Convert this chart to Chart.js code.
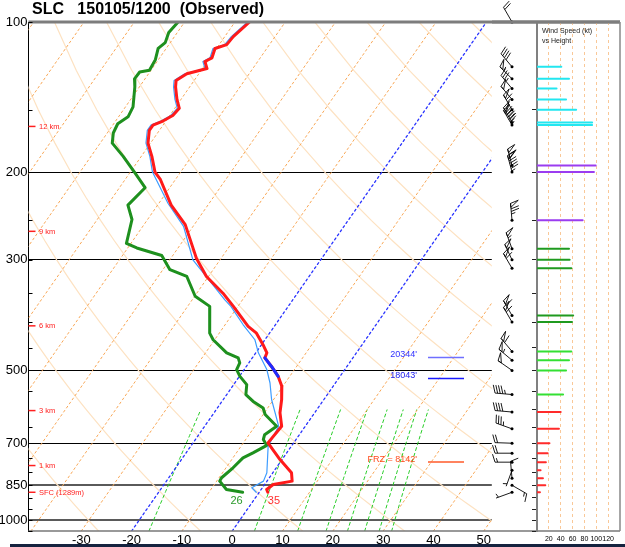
<!DOCTYPE html>
<html>
<head>
<meta charset="utf-8">
<script src="https://cdn.jsdelivr.net/npm/chart.js@4.4.1/dist/chart.umd.min.js"></script>
<style>
html, body { margin: 0; padding: 0; background: #fff; }
#wrap { position: relative; width: 625px; height: 547px; overflow: hidden; }
#skew { position: absolute; left: 0; top: 0; }
#wind { position: absolute; left: 492px; top: 0; }
#title { position: absolute; left: 32px; top: -1px; font: bold 16px "Liberation Sans", Arial, sans-serif; white-space: pre; line-height: 20px; color: #000; }
#strip { position: absolute; left: 10px; right: 0; bottom: 0; height: 3px; background: #15233f; }
</style>
</head>
<body>
<div id="wrap">
  <canvas id="skew" width="625" height="547"></canvas>
  <canvas id="wind" width="133" height="547"></canvas>
  <div id="title">SLC   150105/1200  (Observed)</div>
  <div id="strip"></div>
</div>
<script>
// temperature profile (hPa, degC)
var pT = [100,107,111,113,118,120,124,125,127,131,135,143,149,154,158,161,165,175,186,200,207,233,255,298,324,350,372,408,421,444,461,472,491,514,538,572,608,647,699,755,802,834,847,867,878];
var tT = [-67.1,-68.3,-68.5,-70.3,-69.6,-70.5,-69.1,-70.2,-72.4,-73.6,-72.8,-70.8,-69.1,-69.4,-70.6,-72.0,-72.0,-70.5,-67.9,-65.1,-63.0,-57.3,-51.8,-44.9,-40.4,-34.8,-30.9,-25.2,-22.6,-19.7,-17.8,-17.5,-15.0,-12.3,-10.2,-8.4,-6.9,-4.7,-5.1,-0.4,3.7,5.0,1.7,1.1,1.7];

// dewpoint profile
var pD = [100,105,110,113,119,125,126,130,135,148,155,160,167,175,186,201,215,233,249,278,284,294,314,324,355,372,421,434,461,472,483,498,514,534,559,577,595,613,647,673,688,707,732,749,784,821,834,867,878];
var tD = [-81.3,-81.7,-81.0,-81.6,-80.6,-80.3,-82.0,-82.1,-80.9,-78.5,-78.1,-79.2,-78.8,-77.6,-73.6,-68.9,-64.9,-65.9,-63.1,-60.9,-58.2,-52.2,-48.6,-44.3,-39.9,-35.6,-31.9,-30.3,-25.8,-22.8,-21.8,-21.5,-19.9,-17.4,-16.2,-13.8,-10.9,-9.6,-5.7,-6.9,-6.5,-5.0,-6.7,-8.0,-8.6,-9.5,-9.4,-6.9,-3.3];

// wet bulb profile
var pW = [100,107,111,113,118,120,124,125,127,131,135,143,149,154,158,161,165,175,186,200,231,257,300,361,372,405,434,461,498,530,572,647,710,802,834,860,878];
var tW = [-67.5,-68.7,-68.9,-70.7,-70.0,-70.9,-69.5,-70.6,-72.8,-74.0,-73.2,-71.2,-69.5,-69.8,-71.0,-72.4,-72.4,-70.9,-68.3,-65.6,-58.2,-51.9,-45.4,-33.5,-31.4,-26.4,-22.0,-19.5,-15.5,-13.0,-10.4,-5.3,-4.6,-1.2,-0.7,-2.1,-0.6];

// highlighted layer on the temperature trace (hPa)
var blueLayer = [470, 515];

// winds
var windP   = [100,123,130,136,143,150,159,161,194,200,250,285,300,312,388,400,458,477,500,559,606,655,700,733,764,793,823,850,878];
var windSpd = [20,41,54,33,49,66,93,93,99,96,77,54,55,58,61,59,58,54,49,44,40,37,21,18,15,6,10,14,5];
var windDir = [330,320,315,320,320,330,330,330,345,345,355,340,335,330,330,330,320,310,305,275,275,290,272,270,270,200,355,120,250];

// height markers
var heightLbl = ['12 km', '9 km', '6 km', '3 km', '1 km', 'SFC (1289m)'];
var heightP   = [162, 263, 407, 602, 776, 878];

// level annotations
var levelLbl = ["20344'", "18043'", "FRZ = 8142'"];
var levelP   = [470, 518, 762];

// axes
var pLabels = [100, 200, 300, 500, 700, 850, 1000];
var pTicks = [100,150,200,250,300,350,400,450,500,550,600,650,700,750,800,850,900,950,1000,1050];
var xTicks = [-30, -20, -10, 0, 10, 20, 30, 40, 50];
var spdTicks = [20, 40, 60, 80, 100, 120];
var mixW = [1, 5, 9, 13, 17, 21, 25, 29];

var FAM = '"Liberation Sans", Arial, sans-serif';
Chart.defaults.font.family = FAM;

var P0 = 1050, SKEW = 30;
function sx(t, p) { return t + SKEW * Math.log(P0 / p); }
function profile(ps, ts) {
  return ps.map(function (p, i) { return {x: sx(ts[i], p), y: p}; });
}
function line(data, color, width, dash, order) {
  return {data: data, showLine: true, borderColor: color, borderWidth: width,
          borderDash: dash || [], pointRadius: 0, order: order, fill: false,
          borderJoinStyle: 'round', borderCapStyle: 'round'};
}

var ds = [];
var lay = [], layT = [];
pT.forEach(function (p, i) { if (p >= blueLayer[0] && p <= blueLayer[1]) { lay.push(p); layT.push(tT[i]); } });
ds.push(line(profile(lay, layT), '#1e2cff', 3, null, 0));
ds.push(line(profile(pT, tT), '#ff1a1a', 3, null, 1));
ds.push(line(profile(pW, tW), '#3d9cff', 1.2, null, 2));
ds.push(line(profile(pD, tD), '#1e901e', 3, null, 3));

// isotherms
for (var t = -110; t <= 50; t += 10) {
  var hot = (t === 0 || t === -20);
  ds.push(line([{x: sx(t, 1050), y: 1050}, {x: sx(t, 100), y: 100}],
    hot ? 'rgb(40,50,255)' : 'rgb(248,168,88)', hot ? 1.3 : 1, [2, 3], 20));
}
// dry adiabats
for (var th = -30; th <= 250; th += 20) {
  var pts = [];
  for (var p = 1050; p >= 100; p -= 25) {
    var tk = (th + 273.15) * Math.pow(p / 1000, 0.286);
    pts.push({x: sx(tk - 273.15, p), y: p});
  }
  ds.push(line(pts, 'rgb(253,226,194)', 1.2, null, 22));
}
// mixing ratio lines
mixW.forEach(function (w) {
  var pts = [];
  for (var p = 1050; p >= 600; p -= 25) {
    var e = w * p / (622 + w), l = Math.log(e / 6.112);
    pts.push({x: sx(243.5 * l / (17.67 - l), p), y: p});
  }
  ds.push(line(pts, 'rgb(40,205,40)', 1, [3, 3], 21));
});

var gridCol = {200: '#000', 300: '#000', 500: '#000', 700: '#000', 850: '#5a5a5a', 1000: '#5a5a5a'};
var gridW = {200: 1, 300: 1, 500: 1, 700: 1, 850: 2, 1000: 2};

function drawBarb(ctx, x, y, dir, spd) {
  var r = dir * Math.PI / 180;
  var ux = Math.sin(r), uy = -Math.cos(r);
  var fx = -uy * 8 + ux * 2.5, fy = ux * 8 + uy * 2.5;
  var L = 17;
  ctx.beginPath(); ctx.moveTo(x, y); ctx.lineTo(x + ux * L, y + uy * L); ctx.stroke();
  ctx.beginPath(); ctx.arc(x, y, 1.5, 0, 2 * Math.PI); ctx.fill();
  var s = Math.round(spd / 5) * 5, d = L;
  while (s >= 50) {
    var bx = x + ux * d, by = y + uy * d;
    ctx.beginPath(); ctx.moveTo(bx, by); ctx.lineTo(bx + fx, by + fy);
    ctx.lineTo(x + ux * (d - 4), y + uy * (d - 4)); ctx.closePath(); ctx.stroke();
    d -= 5.5; s -= 50;
  }
  while (s >= 10) {
    var cx = x + ux * d, cy = y + uy * d;
    ctx.beginPath(); ctx.moveTo(cx, cy); ctx.lineTo(cx + fx, cy + fy); ctx.stroke();
    d -= 2.6; s -= 10;
  }
  if (s >= 5) {
    if (d === L) d -= 2.6;
    var hx = x + ux * d, hy = y + uy * d;
    ctx.beginPath(); ctx.moveTo(hx, hy); ctx.lineTo(hx + fx / 2, hy + fy / 2); ctx.stroke();
  }
}

var skewDecor = {
  id: 'skewDecor',
  afterDraw: function (chart) {
    var ctx = chart.ctx, a = chart.chartArea, ys = chart.scales.y, xs = chart.scales.x;
    ctx.save();
    // frame
    ctx.strokeStyle = '#7d7d7d'; ctx.lineWidth = 3;
    ctx.beginPath(); ctx.moveTo(a.left, a.top); ctx.lineTo(620, a.top); ctx.stroke();
    ctx.strokeStyle = '#777'; ctx.lineWidth = 1.5;
    ctx.beginPath(); ctx.moveTo(a.left, a.bottom); ctx.lineTo(620, a.bottom); ctx.stroke();
    // minor pressure ticks
    ctx.strokeStyle = '#000'; ctx.lineWidth = 1;
    pTicks.forEach(function (p) {
      var y = Math.round(ys.getPixelForValue(p)) + 0.5;
      ctx.beginPath(); ctx.moveTo(a.left, y); ctx.lineTo(a.left + 4, y); ctx.stroke();
    });
    // height markers
    ctx.strokeStyle = '#ff2020'; ctx.fillStyle = '#ff2020'; ctx.lineWidth = 1.5;
    ctx.font = '7.5px ' + FAM; ctx.textBaseline = 'middle'; ctx.textAlign = 'left';
    heightLbl.forEach(function (s, i) {
      var y = ys.getPixelForValue(heightP[i]);
      ctx.beginPath(); ctx.moveTo(a.left, y); ctx.lineTo(a.left + 7, y); ctx.stroke();
      ctx.fillText(s, a.left + 10.5, y + 0.5);
    });
    // level annotations
    var lvlText = ['#3030ff', '#2020ee', '#ff4a1a'];
    var lvlLine = ['#6f6fff', '#1a1aff', '#ff5a2a'];
    ctx.font = '9px ' + FAM; ctx.textAlign = 'right'; ctx.textBaseline = 'alphabetic';
    levelLbl.forEach(function (s, i) {
      var y = ys.getPixelForValue(levelP[i]);
      ctx.fillStyle = lvlText[i];
      ctx.fillText(s, 417, y);
      ctx.strokeStyle = lvlLine[i]; ctx.lineWidth = 1.5;
      ctx.beginPath(); ctx.moveTo(428, y + 0.5); ctx.lineTo(464, y + 0.5); ctx.stroke();
    });
    // surface values in F
    var n = tT.length - 1, m = tD.length - 1;
    ctx.font = '11px ' + FAM;
    ctx.fillStyle = '#2a9a2a'; ctx.textAlign = 'right';
    ctx.fillText(String(Math.round(tD[m] * 9 / 5 + 32)), xs.getPixelForValue(sx(tD[m], pD[m])), ys.getPixelForValue(pD[m]) + 12);
    ctx.fillStyle = '#ff3030'; ctx.textAlign = 'left';
    ctx.fillText(String(Math.round(tT[n] * 9 / 5 + 32)), xs.getPixelForValue(sx(tT[n], pT[n])), ys.getPixelForValue(pT[n]) + 12);
    // wind barbs
    ctx.strokeStyle = '#000'; ctx.fillStyle = '#000'; ctx.lineWidth = 0.9;
    windP.forEach(function (p, i) {
      drawBarb(ctx, 512, ys.getPixelForValue(p), windDir[i], windSpd[i]);
    });
    ctx.restore();
  }
};

new Chart(document.getElementById('skew'), {
  type: 'scatter',
  data: {datasets: ds},
  options: {
    responsive: false,
    animation: false,
    events: [],
    layout: {autoPadding: false, padding: {top: 22, right: 133.2, bottom: 0, left: 0}},
    plugins: {legend: {display: false}, tooltip: {enabled: false}},
    scales: {
      x: {
        type: 'linear', min: -40.5, max: 51.6,
        afterFit: function (s) { s.height = 16; },
        afterBuildTicks: function (s) { s.ticks = xTicks.map(function (v) { return {value: v}; }); },
        grid: {display: false, drawTicks: false},
        border: {display: false},
        ticks: {font: {size: 13}, color: '#000', padding: 2, maxRotation: 0, autoSkip: false}
      },
      y: {
        type: 'logarithmic', reverse: true, min: 100, max: 1050,
        afterFit: function (s) { s.width = 28.5; },
        afterBuildTicks: function (s) { s.ticks = pTicks.map(function (v) { return {value: v}; }); },
        ticks: {
          font: {size: 13}, color: '#000', padding: 1, autoSkip: false,
          callback: function (v) { return pLabels.indexOf(v) >= 0 ? String(v) : ''; }
        },
        grid: {
          drawTicks: false,
          color: function (c) { return (c.tick && gridCol[c.tick.value]) || 'rgba(0,0,0,0)'; },
          lineWidth: function (c) { return (c.tick && gridW[c.tick.value]) || 1; }
        },
        border: {display: true, color: '#000', width: 1}
      }
    }
  },
  plugins: [skewDecor]
});

// wind speed panel
var bandCol = ['#22e6f0', '#9b3cf0', '#1f9a1f', '#33e033', '#ff2a2a'];
function bandOf(p) {
  for (var k = 0; k < 4; k++) { if (p < heightP[k]) return bandCol[k]; }
  return bandCol[4];
}
var wds = windP.map(function (p, i) {
  return line([{x: 0, y: p}, {x: windSpd[i], y: p}], bandOf(p), 2, null, 0);
});

var windDecor = {
  id: 'windDecor',
  afterDraw: function (chart) {
    var ctx = chart.ctx, a = chart.chartArea;
    ctx.save();
    ctx.strokeStyle = '#7d7d7d'; ctx.lineWidth = 3;
    ctx.beginPath(); ctx.moveTo(0, a.top); ctx.lineTo(a.right, a.top); ctx.stroke();
    ctx.lineWidth = 1.5; ctx.strokeStyle = '#888';
    ctx.beginPath(); ctx.moveTo(a.right, a.top); ctx.lineTo(a.right, a.bottom); ctx.stroke();
    ctx.fillStyle = '#222'; ctx.font = '7px ' + FAM; ctx.textAlign = 'left'; ctx.textBaseline = 'alphabetic';
    ctx.fillText('Wind Speed (kt)', a.left + 5, a.top + 10.5);
    ctx.fillText('vs Height', a.left + 5, a.top + 21);
    ctx.restore();
  }
};

new Chart(document.getElementById('wind'), {
  type: 'scatter',
  data: {datasets: wds},
  options: {
    responsive: false,
    animation: false,
    events: [],
    layout: {autoPadding: false, padding: {top: 22, right: 5, bottom: 0, left: 0}},
    plugins: {legend: {display: false}, tooltip: {enabled: false}},
    scales: {
      x: {
        type: 'linear', min: 0, max: 140,
        afterFit: function (s) { s.height = 16; },
        afterBuildTicks: function (s) { s.ticks = spdTicks.map(function (v) { return {value: v}; }); },
        grid: {color: 'rgb(249,200,152)', drawTicks: false},
        border: {display: false, dash: [3, 3]},
        ticks: {font: {size: 7}, color: '#000', padding: 4, maxRotation: 0, autoSkip: false}
      },
      y: {
        type: 'logarithmic', reverse: true, min: 100, max: 1050,
        afterFit: function (s) { s.width = 45; },
        afterBuildTicks: function (s) { s.ticks = pTicks.map(function (v) { return {value: v}; }); },
        ticks: {display: false},
        grid: {drawOnChartArea: false, drawTicks: true, tickLength: 5, tickColor: '#222'},
        border: {display: true, color: '#808080', width: 2}
      }
    }
  },
  plugins: [windDecor]
});
</script>
</body>
</html>
